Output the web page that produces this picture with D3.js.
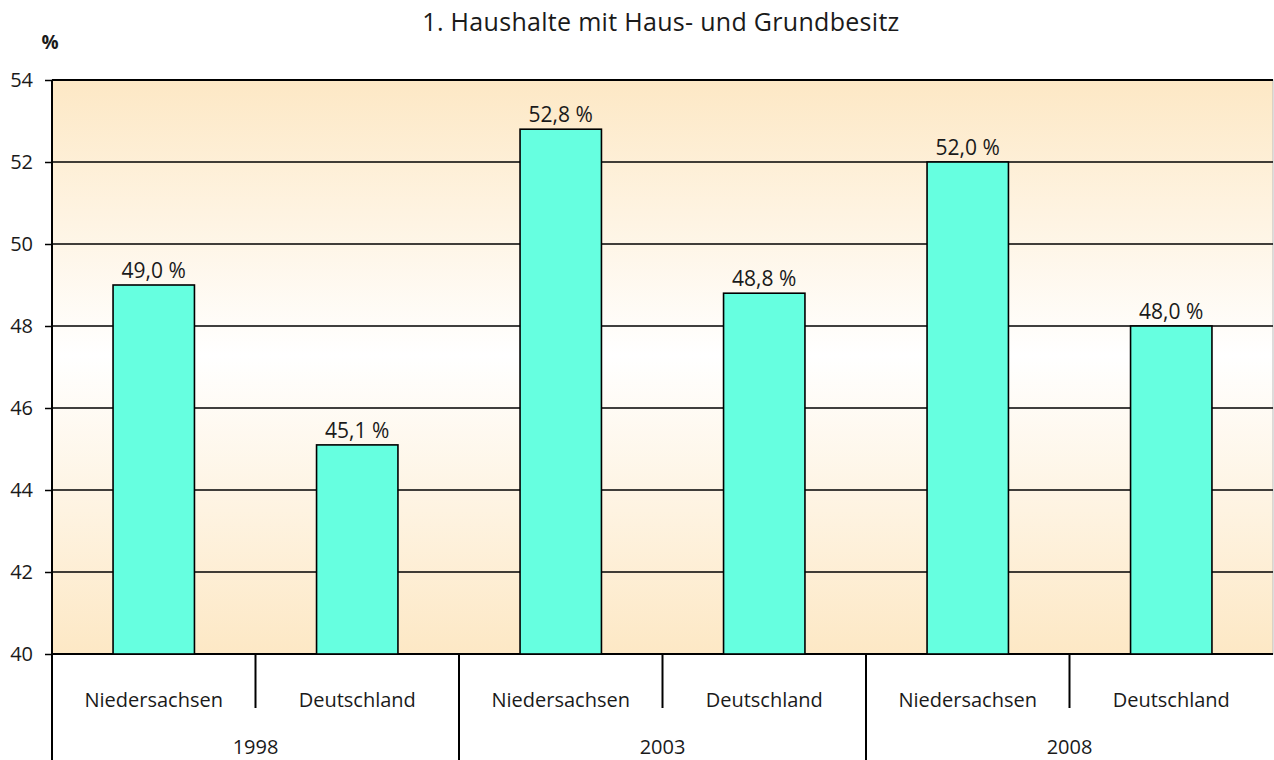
<!DOCTYPE html>
<html><head><meta charset="utf-8">
<script src="https://cdn.jsdelivr.net/npm/d3@7"></script>
<style>body{margin:0;background:#fff}svg{display:block}text{font-family:"Open Sans","Noto Sans",sans-serif;fill:#1a1a1a}</style>
</head><body>
<svg id="c" width="1274" height="760"></svg>
<script>
const years = ["1998","2003","2008"];
const regions = ["Niedersachsen","Deutschland"];
const values = [49.0, 45.1, 52.8, 48.8, 52.0, 48.0];
const yTicks = [40,42,44,46,48,50,52,54];
const title = "1. Haushalte mit Haus- und Grundbesitz";

const svg = d3.select("#c");
const L = 52, R = 1273, T = 80, B = 654;
const cats = [];
years.forEach(y => regions.forEach(r => cats.push(y + "|" + r)));
const x = d3.scaleBand().domain(cats).range([L, R]).paddingInner(0.6).paddingOuter(0.3);
const xg = d3.scaleBand().domain(years).range([L, R]);
const y = d3.scaleLinear().domain([40, 54]).range([B, T]);

const defs = svg.append("defs");
const g = defs.append("linearGradient").attr("id","bg").attr("x1",0).attr("x2",0).attr("y1",0).attr("y2",1);
g.append("stop").attr("offset","0%").attr("stop-color","#fde8c5");
g.append("stop").attr("offset","48%").attr("stop-color","#ffffff");
g.append("stop").attr("offset","100%").attr("stop-color","#fde8c5");

svg.append("rect").attr("x",L).attr("y",T).attr("width",R-L).attr("height",B-T).attr("fill","url(#bg)").attr("stroke","#bbb").attr("stroke-width",1);

// gridlines
svg.append("g").selectAll("line").data(yTicks).join("line")
  .attr("x1",L).attr("x2",R).attr("y1",d=>y(d)).attr("y2",d=>y(d))
  .attr("stroke","#000").attr("stroke-width",d=>d===54||d===40?2:1.4);

// bars
svg.append("g").selectAll("rect").data(values).join("rect")
  .attr("x",(d,i)=>x(cats[i])).attr("width",x.bandwidth())
  .attr("y",d=>y(d)).attr("height",d=>B-y(d))
  .attr("fill","#66ffe0").attr("stroke","#000").attr("stroke-width",1.6);

svg.append("g").selectAll("text").data(values).join("text")
  .attr("x",(d,i)=>x(cats[i])+x.bandwidth()/2).attr("y",d=>y(d)-7)
  .attr("text-anchor","middle").attr("font-size",21)
  .text(d=>d3.format(".1f")(d).replace(".",",")+" %");

// y axis
const ya = svg.append("g").attr("transform",`translate(${L},0)`)
  .call(d3.axisLeft(y).tickValues(yTicks).tickSize(7).tickPadding(12).tickFormat(d3.format("d")));
ya.select(".domain").attr("stroke","#000").attr("stroke-width",2).attr("d",`M0,${T}V${B}`);
ya.selectAll(".tick line").attr("stroke","#000").attr("stroke-width",1.5);
ya.selectAll(".tick text").attr("font-size",20).attr("font-family","Open Sans, sans-serif").attr("fill","#1a1a1a");

// category axis lines
const sep = svg.append("g").attr("stroke","#000").attr("stroke-width",2);
years.forEach((yr,i)=>{
  const x0 = xg(yr);
  sep.append("line").attr("x1",x0).attr("x2",x0).attr("y1",B).attr("y2",760);
  sep.append("line").attr("x1",x0+xg.bandwidth()/2).attr("x2",x0+xg.bandwidth()/2).attr("y1",B).attr("y2",708);
});
svg.append("g").selectAll("text").data(cats).join("text")
  .attr("x",d=>x(d)+x.bandwidth()/2).attr("y",707).attr("text-anchor","middle").attr("font-size",20)
  .text(d=>d.split("|")[1]);
svg.append("g").selectAll("text").data(years).join("text")
  .attr("x",d=>xg(d)+xg.bandwidth()/2).attr("y",754).attr("text-anchor","middle").attr("font-size",20)
  .text(d=>d);

svg.append("text").attr("x",661).attr("y",31).attr("text-anchor","middle").attr("font-size",25).attr("letter-spacing",0.3).text(title);
svg.append("text").attr("x",50).attr("y",49).attr("text-anchor","middle").attr("font-size",19).attr("font-weight","bold").text("%");
</script>
</body></html>
